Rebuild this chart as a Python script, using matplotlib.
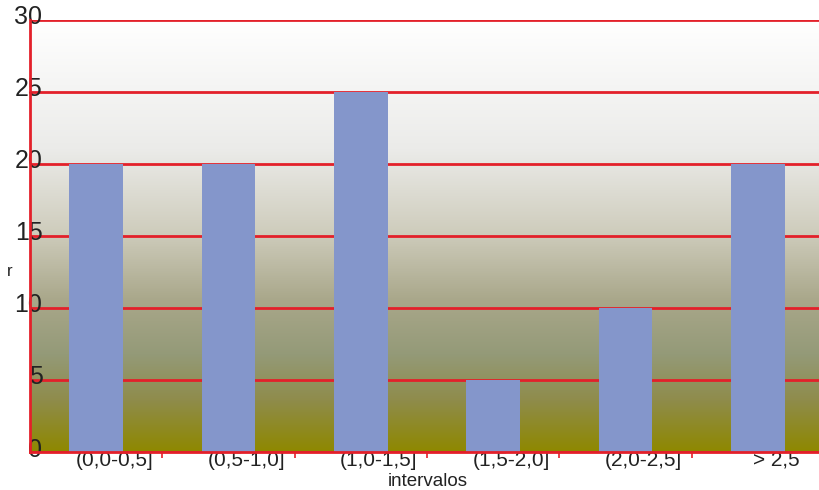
import numpy as np
import matplotlib.pyplot as plt
import matplotlib.transforms as mtransforms
from matplotlib.colors import LinearSegmentedColormap

plt.rcParams['font.family'] = ['Liberation Sans', 'DejaVu Sans']

# Frequencies per interval
intervals = ['(0,0-0,5]', '(0,5-1,0]', '(1,0-1,5]', '(1,5-2,0]', '(2,0-2,5]', '> 2,5']
counts = [20, 20, 25, 5, 10, 20]
y_ticks = [0, 5, 10, 15, 20, 25, 30]

fig = plt.figure(figsize=(8.2, 4.9), dpi=100)
ax = fig.add_axes([30 / 820, 38 / 490, 794 / 820, 432 / 490])

# olive-to-white background gradient
bg = LinearSegmentedColormap.from_list('bg', [
    (0.0, '#8e8800'),
    (0.12, '#8f8c4c'),
    (0.225, '#949a78'),
    (0.35, '#a9a78a'),
    (0.51, '#cfcdbd'),
    (0.70, '#ebebe9'),
    (1.0, '#ffffff'),
])
grad = np.linspace(0, 1, 256).reshape(-1, 1)
ax.imshow(grad, cmap=bg, origin='lower', aspect='auto',
          extent=(0, 1, 0, 1), transform=ax.transAxes, zorder=0)

x = np.arange(len(intervals))
ax.bar(x, counts, width=0.405, color='#8496cb', zorder=3)

ax.set_xlim(-0.5, len(intervals) - 0.5)
ax.set_ylim(0, 30)
ax.set_yticks(y_ticks)
ax.yaxis.grid(True, color='#e3202a', linewidth=2.0, zorder=2)
ax.set_axisbelow(False)
for ln in ax.get_ygridlines():
    ln.set_zorder(2)

for s in ['top', 'right']:
    ax.spines[s].set_visible(False)
for s in ['left', 'bottom']:
    ax.spines[s].set_color('#e3202a')
    ax.spines[s].set_linewidth(2.0)
    ax.spines[s].set_zorder(4)

ax.tick_params(axis='y', length=0, pad=-9, labelsize=18, labelcolor='#222222')
# value labels sit slightly above their gridlines
raise_y = mtransforms.ScaledTranslation(0, 5 / 100, fig.dpi_scale_trans)
for lbl in ax.get_yticklabels():
    lbl.set_transform(lbl.get_transform() + raise_y)

# category labels, with small red ticks at the boundaries
ax.set_xticks(x)
ax.set_xticklabels(intervals, fontsize=15, color='#222222')
ax.tick_params(axis='x', which='major', length=0, pad=-1)
ax.set_xticks(np.arange(len(intervals)) + 0.5, minor=True)
ax.tick_params(axis='x', which='minor', length=4, width=1.2, color='#e3202a')
shift = mtransforms.ScaledTranslation(18 / 100, 0, fig.dpi_scale_trans)
for lbl in ax.get_xticklabels():
    lbl.set_transform(lbl.get_transform() + shift)

fig.text(10 / 820, 1 - 272 / 490, 'r', fontsize=12, ha='center', va='center', color='#222222')
fig.text(428 / 820, 0.5 / 490, 'intervalos', fontsize=13.5, ha='center', va='bottom', color='#222222')

fig.savefig('out.png', dpi=100)
